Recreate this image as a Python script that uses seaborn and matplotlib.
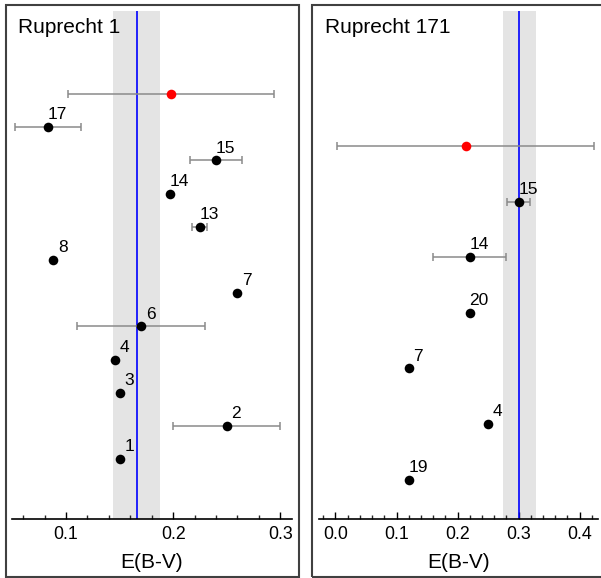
import matplotlib
matplotlib.use("Agg")
import matplotlib.pyplot as plt
from matplotlib.patches import Rectangle
from matplotlib.ticker import MultipleLocator, FormatStrFormatter
import numpy as np
import pandas as pd
import seaborn as sns

# Ruprecht 1: individual star reddening values
r1_stars = ["1", "2", "3", "4", "6", "7", "8", "13", "14", "15", "17"]
r1_ebv = [0.150, 0.250, 0.150, 0.146, 0.170, 0.260, 0.088, 0.225, 0.197, 0.240, 0.083]
r1_err = [0.0, 0.050, 0.0, 0.0, 0.060, 0.0, 0.0, 0.007, 0.0, 0.024, 0.031]
r1_mean, r1_mean_err = 0.198, 0.096
r1_adopted, r1_adopted_err = 0.166, 0.022

# Ruprecht 171: individual star reddening values
r171_stars = ["19", "4", "7", "20", "14", "15"]
r171_ebv = [0.12, 0.25, 0.12, 0.22, 0.22, 0.30]
r171_err = [0.0, 0.0, 0.0, 0.0, 0.060, 0.019]
r171_mean, r171_mean_err = 0.213, 0.21
r171_adopted, r171_adopted_err = 0.301, 0.027

sns.set_theme(style="white")
plt.rcParams["font.family"] = ["Liberation Sans", "DejaVu Sans"]

W, H = 601, 578
fig = plt.figure(figsize=(W / 100, H / 100), dpi=100)


def px_axes(x0, x1, y0, y1):
    return fig.add_axes([x0 / W, 1 - y1 / H, (x1 - x0) / W, (y1 - y0) / H])


def panel(ax, title, stars, ebv, err, mean, mean_err, adopted, adopted_err,
          xlim, ylim, major):
    n = len(stars)
    ypos = np.arange(1, n + 1)
    df = pd.DataFrame({"star": stars, "ebv": ebv, "err": err, "y": ypos})

    ax.axvspan(adopted - adopted_err, adopted + adopted_err,
               color="#e4e4e4", lw=0, zorder=0)
    ax.axvline(adopted, color="#0000ff", lw=1.2, zorder=1)

    with_err = df[df["err"] > 0]
    ax.errorbar(with_err["ebv"], with_err["y"], xerr=with_err["err"],
                fmt="none", ecolor="#8a8a8a", elinewidth=1.1,
                capsize=3, capthick=1.1, zorder=2)
    ax.errorbar([mean], [n + 1], xerr=[mean_err], fmt="none",
                ecolor="#8a8a8a", elinewidth=1.1, capsize=3,
                capthick=1.1, zorder=2)

    sns.scatterplot(data=df, x="ebv", y="y", color="black", s=48,
                    linewidth=0, ax=ax, zorder=3)
    sns.scatterplot(x=[mean], y=[n + 1], color="#ff0000", s=48,
                    linewidth=0, ax=ax, zorder=3)

    for _, row in df.iterrows():
        ax.annotate(row["star"], (row["ebv"], row["y"]),
                    xytext=(6.8, 5.6), textcoords="offset points",
                    ha="center", va="baseline", fontsize=12.5,
                    color="black", zorder=4)

    ax.text(0.022, 0.957, title, transform=ax.transAxes, fontsize=15,
            ha="left", va="baseline", color="black")

    ax.set_xlim(*xlim)
    ax.set_ylim(*ylim)
    ax.set_yticks([])
    ax.set_ylabel("")
    ax.set_xlabel("E(B-V)", fontsize=15, color="black", labelpad=7)
    ax.xaxis.set_major_locator(MultipleLocator(major))
    ax.xaxis.set_minor_locator(MultipleLocator(0.02))
    ax.xaxis.set_major_formatter(FormatStrFormatter("%.1f"))
    ax.tick_params(axis="x", which="major", direction="in", length=5,
                   width=1.0, labelsize=12.8, pad=5, colors="black",
                   bottom=True)
    ax.tick_params(axis="x", which="minor", direction="in", length=3,
                   width=1.0, bottom=True)
    for side in ["left", "top", "right"]:
        ax.spines[side].set_visible(False)
    ax.spines["bottom"].set_color("black")
    ax.spines["bottom"].set_linewidth(1.2)
    ax.patch.set_alpha(0)


ax1 = px_axes(12, 292, 11, 519)
panel(ax1, "Ruprecht 1", r1_stars, r1_ebv, r1_err, r1_mean, r1_mean_err,
      r1_adopted, r1_adopted_err, (0.0495, 0.311), (-0.8, 14.5), 0.1)

ax2 = px_axes(319, 598, 11, 519)
panel(ax2, "Ruprecht 171", r171_stars, r171_ebv, r171_err, r171_mean,
      r171_mean_err, r171_adopted, r171_adopted_err, (-0.027, 0.43),
      (0.29, 9.43), 0.1)

# Frames around each panel
for x0, x1 in [(5.5, 298.5), (311.5, 606)]:
    fig.patches.append(Rectangle((x0 / W, 1 - 576.5 / H), (x1 - x0) / W,
                                 (576.5 - 4.5) / H, transform=fig.transFigure,
                                 fill=False, edgecolor="#404040", lw=1.5))

fig.savefig("out.png", dpi=100)
